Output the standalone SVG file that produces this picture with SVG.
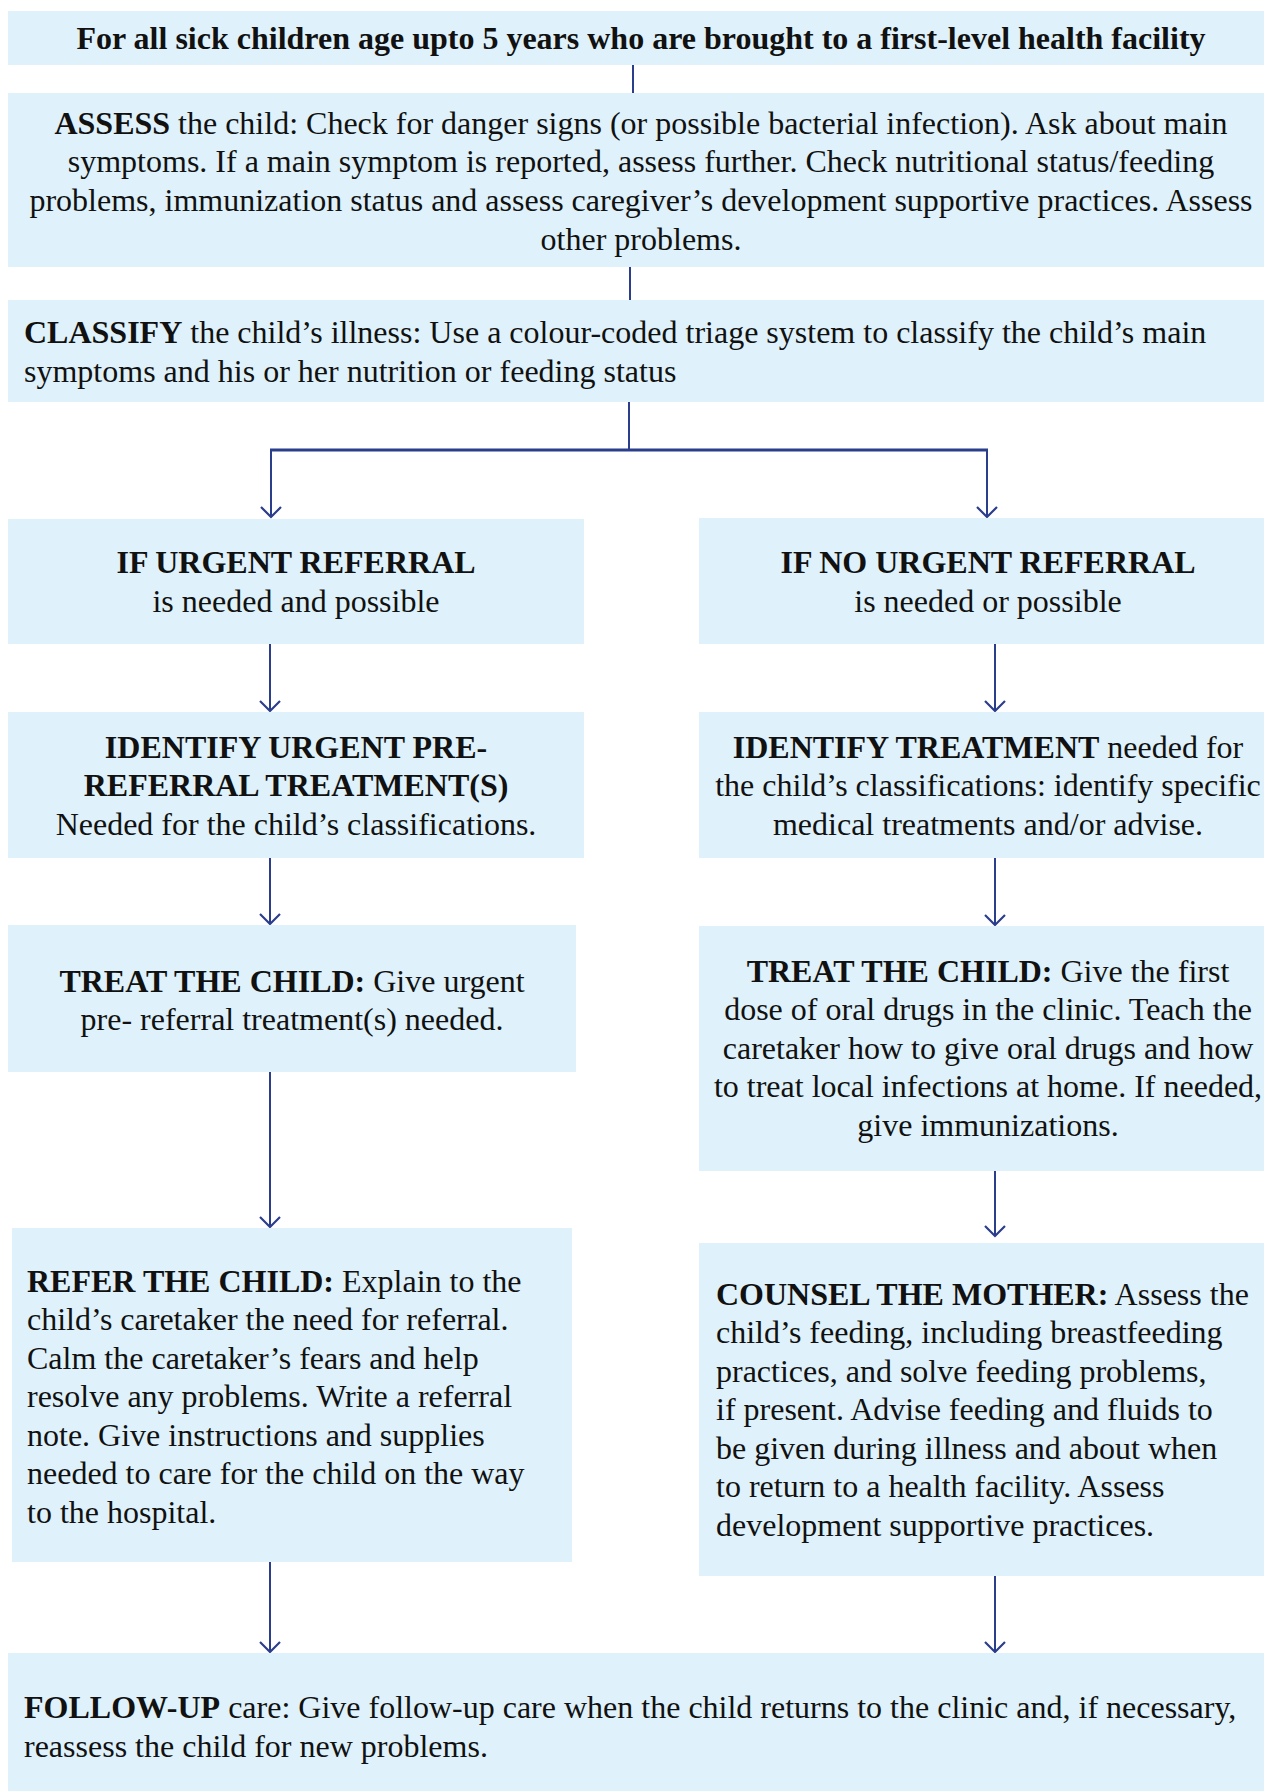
<svg xmlns="http://www.w3.org/2000/svg" width="1264" height="1791" viewBox="0 0 1264 1791">
<defs>
<style>
.box{fill:#DFF1FB}
.t text{font-size:32px;fill:#111}
.b{font-weight:bold}
.c{text-anchor:middle}
.ln{stroke:#2B3E8C;stroke-width:2;fill:none}
.ln3{stroke:#2B3E8C;stroke-width:3;fill:none}
</style>
<marker id="ah" markerWidth="14" markerHeight="24" refX="11" refY="11" orient="auto" markerUnits="userSpaceOnUse" viewBox="0 0 14 22">
<path d="M1,1 L11,11 L1,21" stroke="#2B3E8C" stroke-width="2.2" fill="none"/>
</marker>
</defs>
<rect width="1264" height="1791" fill="#fff"/>
<g id="connectors">
<line class="ln" x1="633" y1="65" x2="633" y2="93"/>
<line class="ln" x1="630" y1="267" x2="630" y2="300"/>
<line class="ln" x1="629" y1="402" x2="629" y2="450"/>
<line class="ln3" x1="270" y1="450" x2="988" y2="450"/>
<line class="ln" x1="271" y1="450" x2="271" y2="517" marker-end="url(#ah)"/>
<line class="ln" x1="987" y1="450" x2="987" y2="517" marker-end="url(#ah)"/>
<line class="ln" x1="270" y1="644" x2="270" y2="711" marker-end="url(#ah)"/>
<line class="ln" x1="995" y1="644" x2="995" y2="711" marker-end="url(#ah)"/>
<line class="ln" x1="270" y1="858" x2="270" y2="924" marker-end="url(#ah)"/>
<line class="ln" x1="995" y1="858" x2="995" y2="925" marker-end="url(#ah)"/>
<line class="ln" x1="270" y1="1072" x2="270" y2="1227" marker-end="url(#ah)"/>
<line class="ln" x1="995" y1="1171" x2="995" y2="1236" marker-end="url(#ah)"/>
<line class="ln" x1="270" y1="1562" x2="270" y2="1652" marker-end="url(#ah)"/>
<line class="ln" x1="995" y1="1576" x2="995" y2="1652" marker-end="url(#ah)"/>
</g>
<g class="t" font-family="'Liberation Serif', 'Times New Roman', Tinos, serif">
<g id="start">
<rect class="box" x="8" y="11" width="1256" height="54"/>
<text class="b c" x="641" y="49">For all sick children age upto 5 years who are brought to a first-level health facility</text>
</g>
<g id="assess">
<rect class="box" x="8" y="93" width="1256" height="174"/>
<text class="c" x="641" y="134"><tspan class="b">ASSESS</tspan> the child: Check for danger signs (or possible bacterial infection). Ask about main</text>
<text class="c" x="641" y="172">symptoms. If a main symptom is reported, assess further. Check nutritional status/feeding</text>
<text class="c" x="641" y="211">problems, immunization status and assess caregiver’s development supportive practices. Assess</text>
<text class="c" x="641" y="250">other problems.</text>
</g>
<g id="classify">
<rect class="box" x="8" y="300" width="1256" height="102"/>
<text x="24" y="343"><tspan class="b">CLASSIFY</tspan> the child’s illness: Use a colour-coded triage system to classify the child’s main</text>
<text x="24" y="382">symptoms and his or her nutrition or feeding status</text>
</g>
<g id="urgent">
<rect class="box" x="8" y="519" width="576" height="125"/>
<text class="b c" x="296" y="573">IF URGENT REFERRAL</text>
<text class="c" x="296" y="612">is needed and possible</text>
</g>
<g id="nourgent">
<rect class="box" x="699" y="518" width="565" height="126"/>
<text class="b c" x="988" y="573">IF NO URGENT REFERRAL</text>
<text class="c" x="988" y="612">is needed or possible</text>
</g>
<g id="identify-left">
<rect class="box" x="8" y="712" width="576" height="146"/>
<text class="b c" x="296" y="758">IDENTIFY URGENT PRE-</text>
<text class="b c" x="296" y="796">REFERRAL TREATMENT(S)</text>
<text class="c" x="296" y="835">Needed for the child’s classifications.</text>
</g>
<g id="identify-right">
<rect class="box" x="699" y="712" width="565" height="146"/>
<text class="c" x="988" y="758"><tspan class="b">IDENTIFY TREATMENT</tspan> needed for</text>
<text class="c" x="988" y="796">the child’s classifications: identify specific</text>
<text class="c" x="988" y="835">medical treatments and/or advise.</text>
</g>
<g id="treat-left">
<rect class="box" x="8" y="925" width="568" height="147"/>
<text class="c" x="292" y="992"><tspan class="b">TREAT THE CHILD:</tspan> Give urgent</text>
<text class="c" x="292" y="1030">pre- referral treatment(s) needed.</text>
</g>
<g id="treat-right">
<rect class="box" x="699" y="926" width="565" height="245"/>
<text class="c" x="988" y="982"><tspan class="b">TREAT THE CHILD:</tspan> Give the first</text>
<text class="c" x="988" y="1020">dose of oral drugs in the clinic. Teach the</text>
<text class="c" x="988" y="1059">caretaker how to give oral drugs and how</text>
<text class="c" x="988" y="1097">to treat local infections at home. If needed,</text>
<text class="c" x="988" y="1136">give immunizations.</text>
</g>
<g id="refer">
<rect class="box" x="12" y="1228" width="560" height="334"/>
<text x="27" y="1292"><tspan class="b">REFER THE CHILD:</tspan> Explain to the</text>
<text x="27" y="1330">child’s caretaker the need for referral.</text>
<text x="27" y="1369">Calm the caretaker’s fears and help</text>
<text x="27" y="1407">resolve any problems. Write a referral</text>
<text x="27" y="1446">note. Give instructions and supplies</text>
<text x="27" y="1484">needed to care for the child on the way</text>
<text x="27" y="1523">to the hospital.</text>
</g>
<g id="counsel">
<rect class="box" x="699" y="1243" width="565" height="333"/>
<text x="716" y="1305"><tspan class="b">COUNSEL THE MOTHER:</tspan> Assess the</text>
<text x="716" y="1343">child’s feeding, including breastfeeding</text>
<text x="716" y="1382">practices, and solve feeding problems,</text>
<text x="716" y="1420">if present. Advise feeding and fluids to</text>
<text x="716" y="1459">be given during illness and about when</text>
<text x="716" y="1497">to return to a health facility. Assess</text>
<text x="716" y="1536">development supportive practices.</text>
</g>
<g id="followup">
<rect class="box" x="8" y="1653" width="1256" height="138"/>
<text x="24" y="1718"><tspan class="b">FOLLOW-UP</tspan> care: Give follow-up care when the child returns to the clinic and, if necessary,</text>
<text x="24" y="1757">reassess the child for new problems.</text>
</g>
</g>
</svg>
